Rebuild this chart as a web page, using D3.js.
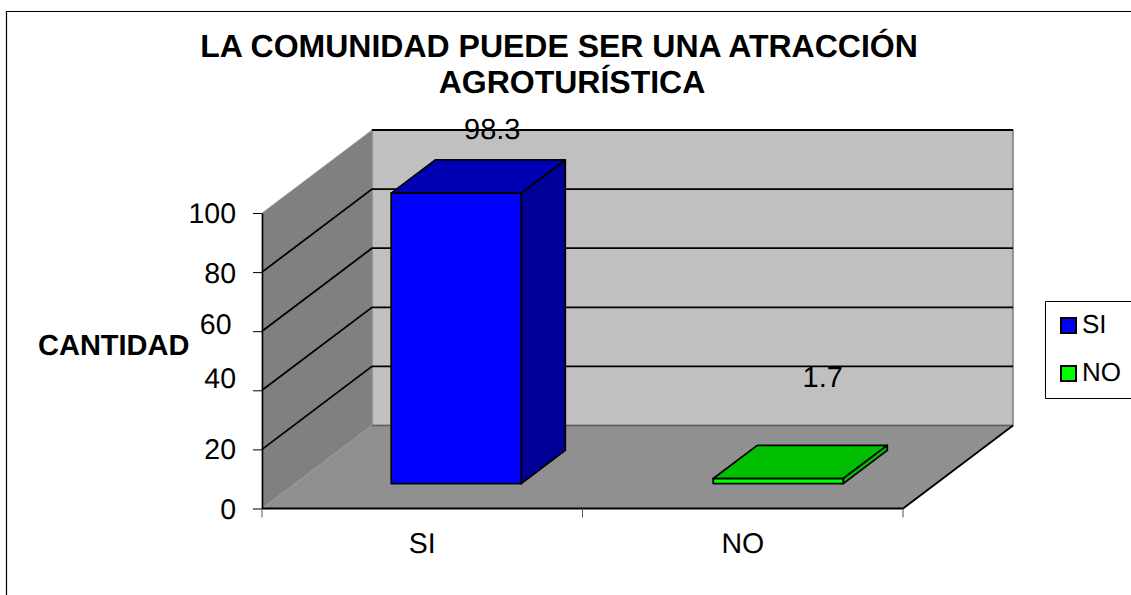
<!DOCTYPE html>
<html>
<head>
<meta charset="utf-8">
<script src="https://d3js.org/d3.v7.min.js"></script>
<style>
    html, body { margin: 0; padding: 0; background: #fff; overflow: hidden; }
    text { font-family: "Liberation Sans", Arial, sans-serif; fill: #000; text-rendering: geometricPrecision; }
</style>
</head>
<body>
<div id="chart"></div>
<script>
var categories = ["SI", "NO"];
var values = [98.3, 1.7];
var yTicks = [0, 20, 40, 60, 80, 100];
var titleLines = ["LA COMUNIDAD PUEDE SER UNA ATRACCIÓN", "AGROTURÍSTICA"];
var yTitle = "CANTIDAD";

var width = 1131, height = 595;

var svg = d3.select("#chart").append("svg")
    .attr("width", width)
    .attr("height", height)
    .style("display", "block");

var x = d3.scaleBand().domain(categories).range([262, 903]),
    y = d3.scaleLinear().domain([0, 100]).range([508.5, 213]),
    // depth of the fake 3d box, 0 is the front edge and 1 the back wall
    depthX = d3.scaleLinear().domain([0, 1]).range([0, 110]),
    depthY = d3.scaleLinear().domain([0, 1]).range([0, -83]);

var colors = {
    SI: {front: "#0000ff", top: "#0000b4", side: "#000096"},
    NO: {front: "#00ff00", top: "#00bf00", side: "#00bf00"}
};

function pt(xv, val, depth) {
    return [xv + depthX(depth), y(val) + depthY(depth)];
}

function poly(points) {
    return "M" + points.map(function (p) { return p.join(","); }).join("L") + "Z";
}

function place(sel, fx, fy) {
    sel.attr("x", null).attr("y", null).attr("dy", null)
        .attr("transform", function (d, i) {
            return "translate(" + fx(d, i) + "," + fy(d, i) + ")";
        });
}

// Outer frame, it runs off the right and bottom of the picture
svg.append("path")
    .attr("d", "M6.5,595V11.5H1131")
    .attr("fill", "none")
    .attr("stroke", "#000")
    .attr("stroke-width", 1.2);

var x0 = x.range()[0], x1 = x.range()[1];

// Back wall, side wall and floor
svg.append("path")
    .attr("d", poly([pt(x0, 0, 1), pt(x0, 100, 1), pt(x1, 100, 1), pt(x1, 0, 1)]))
    .attr("fill", "#c0c0c0")
    .attr("stroke", "#808080")
    .attr("stroke-width", 1.6);
svg.append("path")
    .attr("d", poly([pt(x0, 0, 0), pt(x0, 100, 0), pt(x0, 100, 1), pt(x0, 0, 1)]))
    .attr("fill", "#808080")
    .attr("stroke", "#a0a0a0")
    .attr("stroke-width", 0.5);
svg.append("path")
    .attr("d", poly([pt(x0, 0, 0), pt(x1, 0, 0), pt(x1, 0, 1), pt(x0, 0, 1)]))
    .attr("fill", "#909090");

// back edge of the floor
svg.append("path")
    .attr("d", "M" + pt(x0, 0, 1) + "L" + pt(x1, 0, 1))
    .attr("stroke", "#606060")
    .attr("stroke-width", 1.4);

// Gridlines go along the side wall then along the back
svg.append("g").selectAll("path")
    .data(yTicks.filter(function (d) { return d > 0; }))
    .enter().append("path")
    .attr("d", function (d) {
        var start = d === 100 ? "M" + pt(x0, d, 1) : "M" + pt(x0, d, 0) + "L" + pt(x0, d, 1);
        return start + "L" + pt(x1, d, 1);
    })
    .attr("fill", "none")
    .attr("stroke", "#000")
    .attr("stroke-width", 1.8);

// floor edges
svg.append("path")
    .attr("d", "M" + pt(x1, 0, 1) + "L" + pt(x1, 0, 0) + "L" + pt(x0, 0, 0))
    .attr("fill", "none")
    .attr("stroke", "#000")
    .attr("stroke-width", 1.8);

// Bars
var barW = 130, d0 = 0.3, d1 = 0.7;
var bars = svg.append("g").selectAll("g")
    .data(categories)
    .enter().append("g");

bars.each(function (c, i) {
    var g = d3.select(this),
        v = values[i],
        left = x(c) + x.bandwidth() / 2 - barW / 2 + (i === 0 ? 1 : 2.5),
        right = left + barW;

    function face(points, fill) {
        g.append("path")
            .attr("d", poly(points))
            .attr("fill", fill)
            .attr("stroke", "#000")
            .attr("stroke-width", 1.8)
            .attr("stroke-linejoin", "round");
    }
    face([pt(left, v, d0), pt(left, v, d1), pt(right, v, d1), pt(right, v, d0)], colors[c].top);
    face([pt(right, 0, d0), pt(right, v, d0), pt(right, v, d1), pt(right, 0, d1)], colors[c].side);
    face([pt(left, 0, d0), pt(left, v, d0), pt(right, v, d0), pt(right, 0, d0)], colors[c].front);
});

// Value labels, the two sit at different distances from their bars
var labelShift = [[15, -21], [25, -58]];
svg.append("g").selectAll("text")
    .data(values)
    .enter().append("text")
    .attr("text-anchor", "middle")
    .attr("font-size", 29)
    .text(function (d) { return d; })
    .call(place, function (d, i) {
        var c = categories[i];
        return x(c) + x.bandwidth() / 2 + depthX(0.5) + labelShift[i][0];
    }, function (d, i) {
        return y(d) + depthY(d1) + labelShift[i][1];
    });

// Axes
var yAxis = svg.append("g")
    .attr("transform", "translate(" + x0 + ",0)")
    .call(d3.axisLeft(y).tickValues(yTicks).tickSize(9).tickSizeOuter(0).tickFormat(d3.format("d")));
yAxis.select(".domain").attr("stroke", "#000").attr("stroke-width", 1.6);
// the tick labels do not sit evenly in the source, read from the crop
var tickNudge = {0: [0, 9.5], 20: [0, 9.5], 40: [0, -3.3], 60: [-4.5, 2], 80: [0, 10.7], 100: [0, 9.7]};
yAxis.selectAll("text")
    .attr("font-family", null)
    .attr("font-size", 28.5)
    .call(place, function (d) {
        return -26 + tickNudge[d][0];
    }, function (d) {
        return tickNudge[d][1];
    });

var xAxis = svg.append("g")
    .attr("transform", "translate(0," + y(0) + ")")
    .call(d3.axisBottom(x).tickSize(0));
xAxis.select(".domain").attr("stroke", "none");
xAxis.selectAll("text")
    .attr("font-family", null)
    .attr("font-size", 28.5)
    .call(place, function () { return 0; }, function () { return 44; });
svg.append("g").selectAll("line")
    .data([0, 1, 2])
    .enter().append("line")
    .attr("x1", function (i) { return x0 + i * x.step(); })
    .attr("x2", function (i) { return x0 + i * x.step(); })
    .attr("y1", y(0))
    .attr("y2", y(0) + 9)
    .attr("stroke", "#555");

// Titles
svg.append("g").selectAll("text")
    .data(titleLines)
    .enter().append("text")
    .attr("text-anchor", "middle")
    .attr("font-weight", "bold")
    .attr("font-size", 32)
    .text(function (d) { return d; })
    .call(place, function (d, i) {
        return i === 0 ? 559 : 572;
    }, function (d, i) {
        return i === 0 ? 57 : 93;
    });

svg.append("text")
    .datum(yTitle)
    .attr("font-weight", "bold")
    .attr("font-size", 29)
    .text(yTitle)
    .call(place, function () { return 38; }, function () { return 355; });

// Legend box, also runs off the right side
svg.append("path")
    .attr("d", "M1131,301.5H1045.5V398.5H1131")
    .attr("fill", "#fff")
    .attr("stroke", "#000")
    .attr("stroke-width", 1);

var legend = svg.append("g").selectAll("g")
    .data(categories)
    .enter().append("g")
    .attr("transform", function (d, i) { return "translate(1061," + (318 + i * 48) + ")"; });
legend.append("rect")
    .attr("width", 15)
    .attr("height", 15)
    .attr("fill", function (d) { return colors[d].front; })
    .attr("stroke", "#000")
    .attr("stroke-width", 2);
legend.append("text")
    .attr("font-size", 26)
    .text(function (d) { return d; })
    .call(place, function () { return 21; }, function () { return 15; });
</script>
</body>
</html>
